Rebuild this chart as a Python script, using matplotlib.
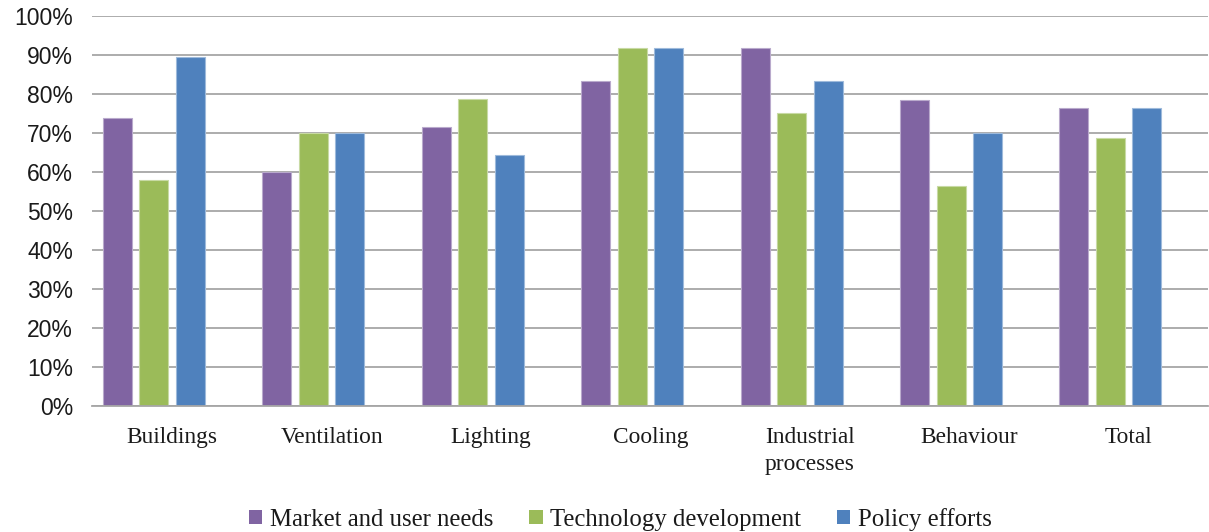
import numpy as np
import matplotlib
matplotlib.use("Agg")
import matplotlib.pyplot as plt
from matplotlib.patches import Patch
from matplotlib.ticker import PercentFormatter
from matplotlib.colors import to_rgb

categories = ["Buildings", "Ventilation", "Lighting", "Cooling",
              "Industrial\nprocesses", "Behaviour", "Total"]
series_names = ["Market and user needs", "Technology development", "Policy efforts"]

market = [73.7, 60.0, 71.4, 83.3, 91.7, 78.3, 76.4]
technology = [58.0, 70.0, 78.6, 91.7, 75.0, 56.4, 68.7]
policy = [89.4, 70.0, 64.3, 91.7, 83.3, 69.9, 76.4]

colors = ["#8064A2", "#9BBB59", "#4F81BD"]


def lighten(c, amount=0.5):
    r, g, b = to_rgb(c)
    return (r + (1 - r) * amount, g + (1 - g) * amount, b + (1 - b) * amount)


fig = plt.figure(figsize=(12.09, 5.32), dpi=100)
ax = fig.add_axes([0.0765, 0.2368, 0.923, 0.7337])

x = np.arange(len(categories))
pitch = 0.229
width = 0.182

# four slots per group, the last one stays empty
for k, (vals, col) in enumerate(zip([market, technology, policy], colors)):
    ax.bar(x + (k - 1.5) * pitch, vals, width=width, color=col,
           edgecolor=lighten(col, 0.45), linewidth=0.8, zorder=3)

ax.set_xlim(-0.5, len(categories) - 0.5)
ax.set_ylim(0, 100)
ax.set_yticks(np.arange(0, 101, 10))
ax.yaxis.set_major_formatter(PercentFormatter(decimals=0))
ax.grid(axis="y", color="#A6A6A6", linewidth=1.3, zorder=0)

for s in ["top", "right", "left"]:
    ax.spines[s].set_visible(False)
ax.spines["bottom"].set_color("#A6A6A6")
ax.spines["bottom"].set_linewidth(1.3)
ax.spines["bottom"].set_zorder(4)

ax.set_xticks(x)
ax.set_xticklabels(categories, fontfamily="Liberation Serif", fontsize=16.8,
                   color="#1a1a1a", linespacing=1.4)
ax.tick_params(axis="x", length=0, pad=15)
ax.tick_params(axis="y", length=0, pad=14, labelsize=16.5, labelcolor="#1a1a1a")
for lbl in ax.get_yticklabels():
    lbl.set_fontfamily("Liberation Sans")

handles = [Patch(facecolor=c, edgecolor="none") for c in colors]
fig.legend(handles, series_names, loc="center", bbox_to_anchor=(0.513, 0.024),
           ncol=3, frameon=False, prop={"family": "Liberation Serif", "size": 17.8},
           handlelength=0.55, handleheight=0.55, handletextpad=0.3,
           columnspacing=1.45, labelcolor="#1a1a1a")

fig.savefig("out.png", dpi=100)
